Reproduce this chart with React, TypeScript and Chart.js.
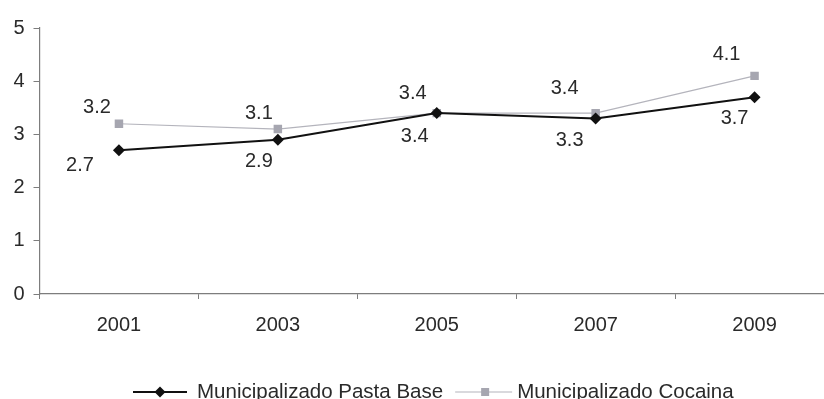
import React, { useEffect, useRef } from "react";
import { Chart, registerables } from "chart.js";

Chart.register(...registerables);

// Survey years and average values per series
const years = ["2001", "2003", "2005", "2007", "2009"];
const pastaBase = [2.7, 2.9, 3.4, 3.3, 3.7];
const cocaina = [3.2, 3.1, 3.4, 3.4, 4.1];
const seriesNames = ["Municipalizado Pasta Base", "Municipalizado Cocaina"];
const yTicks = [0, 1, 2, 3, 4, 5];

const FONT = "'Liberation Sans', Arial, sans-serif";
const TEXT = "#2a2a2a";
const AXIS = "#7d7d7d";
const PASTA_COLOR = "#111111";
const COCA_LINE = "#b4b4bc";
const COCA_MARK = "#a6a6b0";

// Label nudges (dx, dy) relative to each point, per series
const pastaLabelShift = [
  [-39, 15],
  [-19, 22],
  [-22, 23],
  [-26, 22],
  [-20, 21],
];
const cocaLabelShift = [
  [-22, -16],
  [-19, -16],
  [-24, -20],
  [-31, -25],
  [-28, -21],
];

const valueLabels = {
  id: "valueLabels",
  afterDatasetsDraw(chart: any) {
    const ctx = chart.ctx;
    ctx.save();
    ctx.font = `20px ${FONT}`;
    ctx.fillStyle = TEXT;
    ctx.textAlign = "center";
    ctx.textBaseline = "middle";
    const shifts = [pastaLabelShift, cocaLabelShift];
    chart.data.datasets.forEach((ds: any, di: number) => {
      const meta = chart.getDatasetMeta(di);
      meta.data.forEach((pt: any, i: number) => {
        const [dx, dy] = shifts[di][i];
        ctx.fillText(ds.data[i].toFixed(1), pt.x + dx, pt.y + dy);
      });
    });
    ctx.restore();
  },
};

const bottomLegend = {
  id: "bottomLegend",
  afterDraw(chart: any) {
    const ctx = chart.ctx;
    ctx.save();
    ctx.font = `20.5px ${FONT}`;
    const w0 = ctx.measureText(seriesNames[0]).width;
    const y = 392;
    const baseY = 398;
    let x = 133;

    // Pasta Base item
    ctx.strokeStyle = PASTA_COLOR;
    ctx.lineWidth = 2;
    ctx.beginPath();
    ctx.moveTo(x, y);
    ctx.lineTo(x + 54, y);
    ctx.stroke();
    ctx.fillStyle = PASTA_COLOR;
    const cx = x + 27;
    ctx.beginPath();
    ctx.moveTo(cx - 5.5, y);
    ctx.lineTo(cx, y - 5.5);
    ctx.lineTo(cx + 5.5, y);
    ctx.lineTo(cx, y + 5.5);
    ctx.closePath();
    ctx.fill();
    x += 64;
    ctx.fillStyle = TEXT;
    ctx.textBaseline = "alphabetic";
    ctx.textAlign = "left";
    ctx.fillText(seriesNames[0], x, baseY);
    x += w0 + 12;

    // Cocaina item
    ctx.strokeStyle = COCA_LINE;
    ctx.lineWidth = 1.2;
    ctx.beginPath();
    ctx.moveTo(x, y);
    ctx.lineTo(x + 57, y);
    ctx.stroke();
    ctx.fillStyle = COCA_MARK;
    const sx = x + 30;
    ctx.fillRect(sx - 4, y - 4, 8, 8);
    x += 62;
    ctx.fillStyle = TEXT;
    ctx.fillText(seriesNames[1], x, baseY);
    ctx.restore();
  },
};

export default function App() {
  const canvasRef = useRef<HTMLCanvasElement | null>(null);

  useEffect(() => {
    if (!canvasRef.current) return;
    const chart = new Chart(canvasRef.current, {
      type: "line",
      data: {
        labels: years,
        datasets: [
          {
            label: seriesNames[0],
            data: pastaBase,
            borderColor: PASTA_COLOR,
            backgroundColor: PASTA_COLOR,
            borderWidth: 2,
            pointStyle: "rectRot",
            pointRadius: 6,
            pointBorderWidth: 0,
            tension: 0,
            order: 0,
          },
          {
            label: seriesNames[1],
            data: cocaina,
            borderColor: COCA_LINE,
            backgroundColor: COCA_MARK,
            borderWidth: 1.2,
            pointStyle: "rect",
            pointRadius: 6,
            pointBorderWidth: 0,
            tension: 0,
            order: 1,
          },
        ],
      },
      options: {
        responsive: false,
        animation: false,
        devicePixelRatio: 1,
        layout: { padding: { top: 28, right: 5.5, bottom: 0, left: 0 } },
        plugins: {
          legend: { display: false },
          tooltip: { enabled: false },
        },
        scales: {
          x: {
            type: "category",
            offset: true,
            grid: {
              offset: true,
              drawOnChartArea: false,
              drawTicks: true,
              tickLength: 5,
              color: AXIS,
            },
            border: { color: AXIS, width: 1.2 },
            ticks: {
              color: TEXT,
              font: { family: FONT, size: 20 },
              padding: 14,
              maxRotation: 0,
            },
            afterFit: (s: any) => {
              s.height = 105;
            },
          },
          y: {
            min: 0,
            max: 5,
            afterBuildTicks: (s: any) => {
              s.ticks = yTicks.map((v) => ({ value: v }));
            },
            grid: {
              drawOnChartArea: false,
              drawTicks: true,
              tickLength: 6,
              color: AXIS,
            },
            border: { color: AXIS, width: 1.2 },
            ticks: {
              color: TEXT,
              font: { family: FONT, size: 20 },
              padding: 9,
            },
            afterFit: (s: any) => {
              s.width = 39.5;
            },
          },
        },
      },
      plugins: [valueLabels, bottomLegend],
    });
    return () => chart.destroy();
  }, []);

  return (
    <div
      style={{
        position: "fixed",
        left: 0,
        top: 0,
        width: 824,
        height: 399,
        overflow: "hidden",
        background: "#ffffff",
      }}
    >
      <canvas
        ref={canvasRef}
        width={840}
        height={399}
        style={{ width: 840, height: 399, display: "block" }}
      />
    </div>
  );
}
